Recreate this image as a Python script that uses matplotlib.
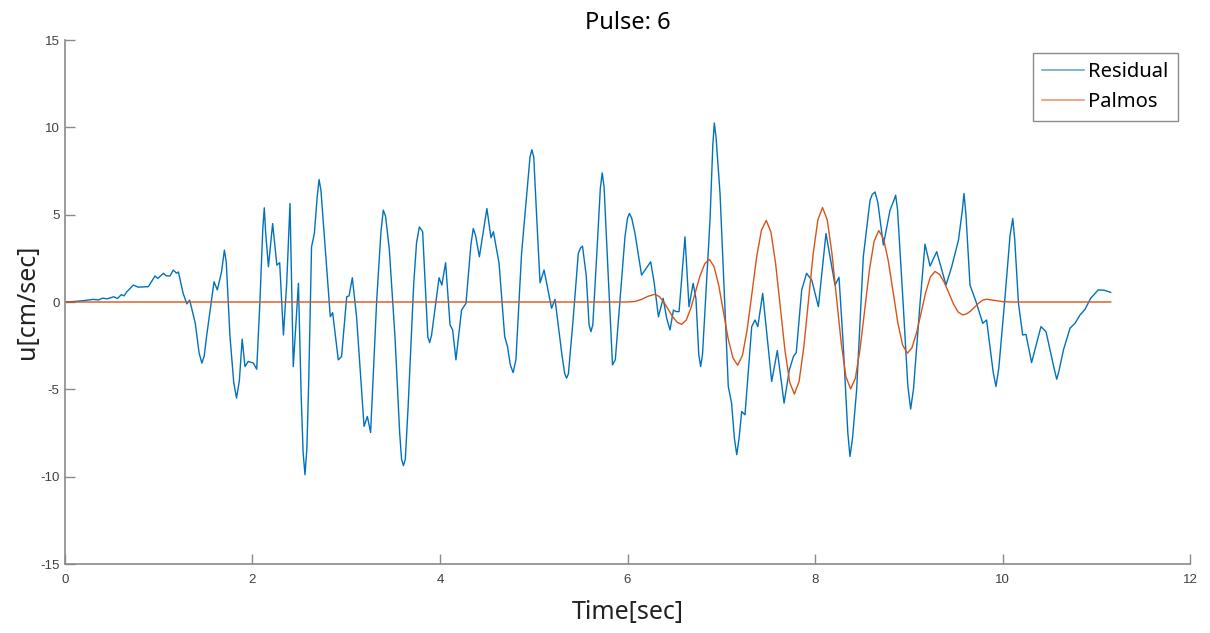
import matplotlib.pyplot as plt

plt.rcParams['axes.unicode_minus'] = False

# residual velocity record: (time [sec], velocity [cm/sec])
residual = [
    (0.00, 0.00), (0.10, 0.03), (0.20, 0.08), (0.30, 0.15), (0.36, 0.12), (0.40, 0.22), (0.45, 0.18),
    (0.52, 0.30), (0.56, 0.20), (0.60, 0.42), (0.63, 0.35), (0.66, 0.59), (0.73, 0.97), (0.78, 0.85),
    (0.89, 0.88), (0.96, 1.49), (0.99, 1.35), (1.05, 1.64), (1.08, 1.50), (1.12, 1.49), (1.155, 1.83),
    (1.19, 1.65), (1.21, 1.72), (1.26, 0.50), (1.30, -0.11), (1.33, 0.11), (1.39, -1.22), (1.43, -2.90),
    (1.46, -3.50), (1.485, -3.10), (1.51, -1.98), (1.59, 1.16), (1.625, 0.69), (1.67, 1.73), (1.70, 2.97),
    (1.72, 2.30), (1.76, -1.98), (1.80, -4.60), (1.83, -5.50), (1.86, -4.50), (1.89, -2.13), (1.92, -3.70),
    (1.955, -3.40), (2.01, -3.50), (2.045, -3.85), (2.08, 0.11), (2.11, 4.20), (2.126, 5.39), (2.14, 4.00),
    (2.17, 2.02), (2.215, 4.49), (2.26, 2.11), (2.29, 2.25), (2.33, -1.89), (2.365, 1.07), (2.40, 5.64),
    (2.435, -3.70), (2.49, 1.07), (2.52, -5.50), (2.54, -8.60), (2.56, -9.89), (2.58, -8.40),
    (2.60, -4.50), (2.63, 3.16), (2.66, 3.92), (2.69, 6.00), (2.71, 7.01), (2.73, 6.40), (2.77, 3.50),
    (2.83, -0.84), (2.855, -0.61), (2.915, -3.31), (2.95, -3.12), (3.005, 0.30), (3.03, 0.35),
    (3.065, 1.39), (3.11, -0.84), (3.19, -7.12), (3.225, -6.55), (3.26, -7.47), (3.325, 0.11),
    (3.37, 4.00), (3.395, 5.26), (3.42, 4.90), (3.46, 2.97), (3.52, -2.00), (3.57, -7.50), (3.59, -9.00),
    (3.61, -9.37), (3.63, -9.00), (3.66, -6.00), (3.72, 1.07), (3.75, 3.40), (3.78, 4.30), (3.815, 4.02),
    (3.87, -2.00), (3.89, -2.32), (3.91, -1.90), (3.99, 1.39), (4.02, 0.97), (4.06, 2.25), (4.107, -1.31),
    (4.135, -1.60), (4.17, -3.31), (4.23, -0.46), (4.277, -0.08), (4.33, 3.30), (4.355, 4.21),
    (4.38, 3.80), (4.42, 2.59), (4.50, 5.35), (4.544, 3.68), (4.57, 4.02), (4.63, 2.21), (4.69, -1.98),
    (4.72, -2.55), (4.75, -3.60), (4.78, -4.04), (4.81, -3.30), (4.87, 2.78), (4.93, 6.50), (4.96, 8.30),
    (4.98, 8.72), (5.00, 8.30), (5.03, 5.00), (5.067, 1.10), (5.11, 1.83), (5.19, -0.36), (5.227, 0.15),
    (5.30, -3.00), (5.33, -4.10), (5.35, -4.36), (5.37, -4.10), (5.42, -1.00), (5.475, 2.78),
    (5.50, 3.10), (5.52, 3.20), (5.56, 1.50), (5.59, -1.30), (5.61, -1.70), (5.63, -1.30), (5.68, 3.50),
    (5.71, 6.50), (5.73, 7.39), (5.75, 6.60), (5.79, 2.00), (5.84, -3.60), (5.87, -3.30), (5.973, 3.73),
    (6.00, 4.80), (6.02, 5.07), (6.045, 4.80), (6.08, 3.92), (6.15, 1.54), (6.247, 2.30), (6.283, 1.16),
    (6.33, -0.84), (6.38, 0.21), (6.418, -0.93), (6.453, -1.60), (6.49, -0.46), (6.52, -0.55),
    (6.55, -0.55), (6.613, 3.73), (6.656, -0.27), (6.70, 1.07), (6.73, 0.20), (6.76, -3.00),
    (6.78, -3.70), (6.80, -3.00), (6.88, 4.69), (6.91, 9.00), (6.926, 10.25), (6.945, 9.40),
    (6.987, 6.21), (7.075, -4.84), (7.11, -5.79), (7.14, -7.80), (7.165, -8.74), (7.19, -7.80),
    (7.218, -6.27), (7.253, -6.46), (7.325, -1.41), (7.36, -1.03), (7.39, -1.41), (7.442, 0.50),
    (7.538, -4.55), (7.598, -2.78), (7.67, -5.79), (7.726, -3.89), (7.77, -3.12), (7.80, -2.90),
    (7.858, 0.69), (7.91, 1.64), (7.965, 1.26), (8.036, -0.27), (8.117, 3.92), (8.213, 0.97),
    (8.256, 1.41), (8.30, -2.36), (8.35, -7.50), (8.373, -8.84), (8.40, -7.80), (8.444, -5.03),
    (8.515, 2.59), (8.587, 5.83), (8.61, 6.15), (8.64, 6.30), (8.67, 5.70), (8.729, 3.26), (8.80, 5.26),
    (8.84, 5.80), (8.86, 6.11), (8.88, 5.30), (8.94, -0.08), (8.99, -4.80), (9.02, -6.13), (9.05, -5.00),
    (9.12, -0.08), (9.173, 3.31), (9.227, 2.06), (9.298, 2.88), (9.397, 0.97), (9.458, 2.02),
    (9.53, 3.54), (9.57, 5.20), (9.589, 6.21), (9.61, 5.00), (9.653, 0.97), (9.717, 0.02),
    (9.789, -1.22), (9.83, -1.03), (9.90, -4.00), (9.93, -4.84), (9.96, -3.80), (10.027, 0.30),
    (10.08, 3.80), (10.109, 4.78), (10.13, 3.60), (10.17, -0.08), (10.215, -1.89), (10.25, -1.85),
    (10.31, -3.47), (10.41, -1.41), (10.464, -1.70), (10.55, -3.80), (10.578, -4.42), (10.60, -4.00),
    (10.65, -2.74), (10.72, -1.50), (10.773, -1.22), (10.827, -0.74), (10.88, -0.42), (10.94, 0.21),
    (11.02, 0.69), (11.08, 0.68), (11.154, 0.55),
]
residual_t, residual_u = zip(*residual)

# extracted Palmos pulse
palmos_t = [0.00, 6.00, 6.08, 6.15, 6.22, 6.29, 6.338, 6.386, 6.434, 6.482, 6.530, 6.578, 6.627, 6.676,
            6.725, 6.774, 6.824, 6.873, 6.923, 6.974, 7.024, 7.074, 7.125, 7.175, 7.226, 7.277, 7.328,
            7.378, 7.429, 7.48, 7.53, 7.58, 7.63, 7.68, 7.73, 7.78, 7.83, 7.88, 7.93, 7.98, 8.03, 8.08,
            8.13, 8.18, 8.23, 8.28, 8.33, 8.38, 8.43, 8.48, 8.53, 8.58, 8.63, 8.68, 8.731, 8.782,
            8.833, 8.883, 8.934, 8.985, 9.034, 9.083, 9.133, 9.182, 9.231, 9.28, 9.329, 9.378, 9.428,
            9.477, 9.526, 9.575, 9.618, 9.660, 9.703, 9.745, 9.788, 9.83, 9.93, 10.0, 10.1, 11.154]
palmos_u = [0.00, 0.00, 0.03, 0.15, 0.33, 0.44, 0.32, 0.01, -0.42, -0.85, -1.16, -1.28, -1.03, -0.35,
            0.58, 1.51, 2.19, 2.44, 2.03, 0.93, -0.59, -2.11, -3.21, -3.62, -3.06, -1.55, 0.53,
            2.60, 4.12, 4.67, 4.00, 2.19, -0.30, -2.79, -4.60, -5.27, -4.55, -2.60, 0.07, 2.74, 4.69, 5.41,
            4.71, 2.81, 0.22, -2.38, -4.28, -4.98, -4.37, -2.71, -0.45, 1.82, 3.48, 4.09, 3.62, 2.34,
            0.58, -1.18, -2.46, -2.93, -2.62, -1.76, -0.59, 0.58, 1.44, 1.75, 1.58, 1.13, 0.51,
            -0.12, -0.57, -0.74, -0.68, -0.515, -0.29, -0.065, 0.10, 0.16, 0.08, 0.02, 0.00, 0.00]

x_ticks = [0, 2, 4, 6, 8, 10, 12]
y_ticks = [-15, -10, -5, 0, 5, 10, 15]
pulse_no = 6

axis_grey = '#8a8a8a'
label_grey = '#404040'

fig = plt.figure(figsize=(12.1, 6.33), dpi=100)
ax = fig.add_axes([0.0537, 0.109, 0.9298, 0.8278])

ax.plot(residual_t, residual_u, color='#0072BD', linewidth=1.0, label='Residual')
ax.plot(palmos_t, palmos_u, color='#D95319', linewidth=1.0, label='Palmos')

ax.set_xlim(0, 12)
ax.set_ylim(-15, 15)
ax.set_xticks(x_ticks)
ax.set_yticks(y_ticks)

for side in ['top', 'right']:
    ax.spines[side].set_visible(False)
for side in ['left', 'bottom']:
    ax.spines[side].set_color(axis_grey)
    ax.spines[side].set_linewidth(1.2)

ax.tick_params(axis='both', direction='in', length=7, width=1.0, color=axis_grey,
               labelcolor=label_grey, labelsize=9.5)
ax.tick_params(axis='x', pad=7)
ax.tick_params(axis='y', pad=4)
for lbl in ax.get_xticklabels() + ax.get_yticklabels():
    lbl.set_family('Liberation Sans')

ax.set_title(f'Pulse: {pulse_no}', fontsize=17, family='Noto Sans', pad=8)
ax.set_xlabel('Time[sec]', fontsize=18, family='Noto Sans', labelpad=10, color='#222222')
ax.set_ylabel('u[cm/sec]', fontsize=18, family='Noto Sans', labelpad=0, color='#222222')

leg = ax.legend(loc='upper right', bbox_to_anchor=(0.989, 0.975), fancybox=False, framealpha=1,
                edgecolor='#8a8a8a', prop={'family': 'Noto Sans', 'size': 14.5},
                handlelength=2.1, handletextpad=0.2, borderpad=0.45, labelspacing=0.5,
                borderaxespad=0)
leg.get_frame().set_linewidth(1.0)
for line in leg.get_lines():
    line.set_linewidth(1.2)
    line.set_alpha(0.6)

fig.savefig('out.png', dpi=100)
